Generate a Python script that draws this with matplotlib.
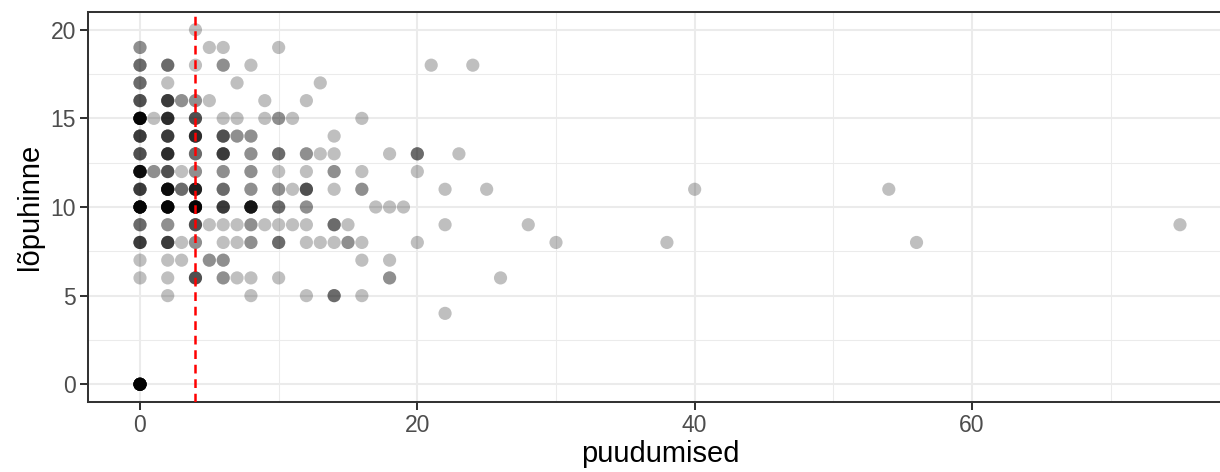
import numpy as np
import matplotlib
matplotlib.use("Agg")
import matplotlib.pyplot as plt

# puudumised (x), lõpuhinne (y) and how many students share that exact point
puudumised = [4,
              0, 5, 6, 10,
              0, 2, 4, 6, 8, 21, 24,
              0, 2, 7, 13,
              0, 2, 3, 4, 5, 9, 12,
              0, 1, 2, 4, 6, 7, 9, 10, 11, 16,
              0, 2, 4, 6, 7, 8, 14,
              0, 2, 4, 6, 8, 10, 12, 13, 14, 18, 20, 23,
              0, 1, 2, 3, 4, 6, 8, 10, 12, 14, 16, 20,
              0, 2, 3, 4, 6, 8, 10, 11, 12, 14, 16, 22, 25, 40, 54,
              0, 2, 4, 6, 8, 10, 12, 17, 18, 19,
              0, 2, 4, 5, 6, 7, 8, 9, 10, 11, 12, 14, 15, 22, 28, 75,
              0, 2, 3, 4, 6, 7, 8, 10, 12, 13, 14, 15, 16, 20, 30, 38, 56,
              0, 2, 3, 5, 6, 16, 18,
              0, 2, 4, 6, 7, 8, 10, 18, 26,
              2, 8, 12, 14, 16,
              22,
              0]
lopuhinne = [20,
             19, 19, 19, 19,
             18, 18, 18, 18, 18, 18, 18,
             17, 17, 17, 17,
             16, 16, 16, 16, 16, 16, 16,
             15, 15, 15, 15, 15, 15, 15, 15, 15, 15,
             14, 14, 14, 14, 14, 14, 14,
             13, 13, 13, 13, 13, 13, 13, 13, 13, 13, 13, 13,
             12, 12, 12, 12, 12, 12, 12, 12, 12, 12, 12, 12,
             11, 11, 11, 11, 11, 11, 11, 11, 11, 11, 11, 11, 11, 11, 11,
             10, 10, 10, 10, 10, 10, 10, 10, 10, 10,
             9, 9, 9, 9, 9, 9, 9, 9, 9, 9, 9, 9, 9, 9, 9, 9,
             8, 8, 8, 8, 8, 8, 8, 8, 8, 8, 8, 8, 8, 8, 8, 8, 8,
             7, 7, 7, 7, 7, 7, 7,
             6, 6, 6, 6, 6, 6, 6, 6, 6,
             5, 5, 5, 5, 5,
             4,
             0]
kordused = [1,
            2, 1, 1, 1,
            3, 3, 1, 2, 1, 1, 1,
            3, 1, 1, 1,
            4, 5, 2, 2, 1, 1, 1,
            12, 1, 6, 4, 1, 1, 1, 2, 1, 1,
            5, 5, 6, 4, 2, 2, 1,
            4, 6, 3, 5, 2, 3, 2, 1, 1, 1, 3, 1,
            10, 2, 4, 1, 2, 2, 2, 1, 1, 2, 1, 1,
            5, 10, 3, 7, 3, 2, 2, 1, 4, 1, 2, 1, 1, 1, 1,
            12, 12, 12, 5, 8, 3, 2, 1, 1, 1,
            3, 2, 4, 1, 1, 1, 2, 1, 1, 1, 1, 3, 1, 1, 1, 1,
            5, 5, 1, 2, 1, 1, 2, 3, 1, 1, 1, 2, 1, 1, 1, 1, 1,
            1, 1, 1, 2, 2, 1, 1,
            1, 1, 4, 2, 1, 1, 1, 2, 1,
            1, 1, 1, 3, 1,
            1,
            15]
piir = 4

x = np.repeat(puudumised, kordused)
y = np.repeat(lopuhinne, kordused)

plt.rcParams['font.family'] = ['Liberation Sans', 'DejaVu Sans']

fig = plt.figure(figsize=(12.2, 4.72), dpi=100)
# panel runs past the right edge of the picture, as in the original crop
ax = fig.add_axes([88/1220, 70/472, 1144/1220, 390/472])

ax.scatter(x, y, s=90, color='black', alpha=0.25, edgecolors='none', zorder=3)
ax.axvline(piir, color='red', lw=1.8, linestyle=(0, (3.5, 2.3)), zorder=4)

ax.set_xlim(-3.75, 78.75)
ax.set_ylim(-1, 21)
ax.set_xticks([0, 20, 40, 60])
ax.set_xticks([10, 30, 50, 70], minor=True)
ax.set_yticks([0, 5, 10, 15, 20])
ax.set_yticks([2.5, 7.5, 12.5, 17.5], minor=True)

ax.grid(True, which='major', color='#EBEBEB', lw=1.45, zorder=0)
ax.grid(True, which='minor', color='#EBEBEB', lw=0.75, zorder=0)
ax.set_axisbelow(True)

for sp in ax.spines.values():
    sp.set_color('#333333')
    sp.set_linewidth(1.45)

ax.tick_params(which='major', length=5.5, width=1.45, color='#333333',
               labelcolor='#4D4D4D', labelsize=16.5, pad=3)
ax.tick_params(which='minor', length=0)

ax.set_xlabel('puudumised', fontsize=21, color='black', labelpad=2)
ax.set_ylabel('lõpuhinne', fontsize=21, color='black', labelpad=5)

fig.savefig('out.png', dpi=100)
